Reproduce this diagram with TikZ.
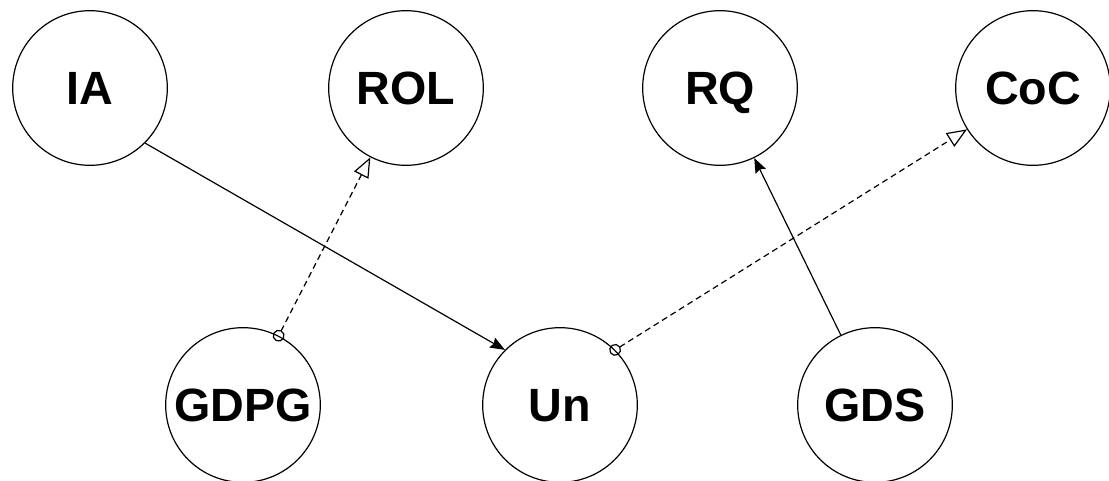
\documentclass[tikz,border=0pt]{standalone}
\usepackage{fontspec}
\setsansfont{Liberation Sans}
\usetikzlibrary{arrows.meta}

\tikzset{every picture/.style={line width=0.9pt}}
\tikzset{
	ent/.style={draw, circle, minimum size=116pt, inner sep=0pt, text height=25pt, text depth=0pt, font=\sffamily\bfseries\fontsize{35}{40}\selectfont},
	assoc/.style={-{Stealth[length=11pt,width=8.5pt,inset=1.5pt]}},
	realize/.style={dash pattern=on 4.5pt off 3pt, shorten <=-4.5pt, {Circle[open,length=9pt,width=9pt]}-{Triangle[open,length=15pt,width=12pt]}}
}

\begin{document}
\begin{tikzpicture}[x=0.75pt,y=0.75pt,yscale=-1,xscale=1]
	\useasboundingbox (0,0) rectangle (1109,481);

	%Shape: Circle [IA]
	\node [ent] (ia) at (90,88) {IA};
	%Shape: Circle [ROL]
	\node [ent] (rol) at (406,88) {ROL};
	%Shape: Circle [RQ]
	\node [ent] (rq) at (720,88) {RQ};
	%Shape: Circle [CoC]
	\node [ent] (coc) at (1033,88) {CoC};
	%Shape: Circle [GDPG]
	\node [ent] (gdpg) at (243,405) {GDPG};
	%Shape: Circle [Un]
	\node [ent] (un) at (560,405) {Un};
	%Shape: Circle [GDS]
	\node [ent] (gds) at (875,405) {GDS};

	%Straight Lines [IA - Un]
	\draw [assoc] (ia.south east) -- (un.north west) ;
	%Straight Lines [GDS - RQ]
	\draw [assoc] (gds) -- (rq) ;
	%Straight Lines [GDPG - ROL]
	\draw [realize] (gdpg) -- (rol) ;
	%Straight Lines [Un - CoC]
	\draw [realize] (un.north east) -- (coc) ;

\end{tikzpicture}
\end{document}
